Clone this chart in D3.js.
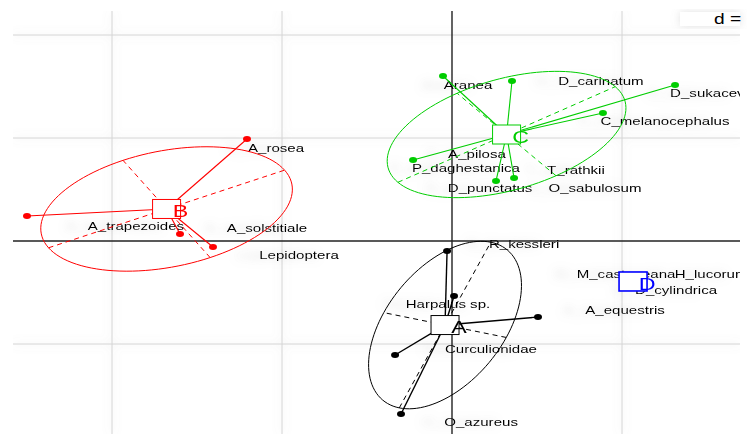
<!DOCTYPE html>
<html>
<head>
<meta charset="utf-8">
<script src="https://cdn.jsdelivr.net/npm/d3@7"></script>
<style>
  body { margin: 0; background: #fff; }
  svg { display: block; }
  text { font-family: "Liberation Sans", Arial, sans-serif; }
</style>
</head>
<body>
<div id="chart"></div>
<script>
// classes and their colours
const groups = ["A", "B", "C", "D"];
const groupColors = ["#000000", "#ff0000", "#00cd00", "#0000ff"];

// class centres, in grid units
const centerX = [-0.041, -1.679, 0.321, 1.065];
const centerY = [-0.816, 0.311, 1.034, -0.393];

// ellipses: semi-axes and angle of the major axis (degrees)
const ellA = [0.848, 0.79, 0.79, 0];
const ellB = [0.38, 0.537, 0.495, 0];
const ellAngle = [71.5, 28.5, 36, 0];

// points of each class
const pointGroup = ["A", "A", "A", "A", "A",
  "B", "B", "B", "B",
  "C", "C", "C", "C", "C", "C", "C",
  "D"];
const pointX = [-0.029, 0.012, 0.506, -0.335, -0.300,
  -1.206, -2.500, -1.600, -1.406,
  -0.053, 0.353, 0.888, 1.312, -0.229, 0.259, 0.365,
  1.065];
const pointY = [-0.097, -0.534, -0.738, -1.107, -1.680,
  0.990, 0.243, 0.068, -0.058,
  1.602, 1.553, 1.243, 1.515, 0.786, 0.583, 0.612,
  -0.393];

// species labels
const speciesNames = ["A_rosea", "A_trapezoides", "A_solstitiale", "Lepidoptera",
  "Aranea", "D_carinatum", "D_sukacevi", "C_melanocephalus", "A_pilosa",
  "P_daghestanica", "T_rathkii", "D_punctatus", "O_sabulosum", "R_kessleri",
  "M_castaneana", "H_lucorum", "D_cylindrica", "A_equestris", "Harpalus sp.",
  "Curculionidae", "O_azureus"];
const speciesX = [-1.035, -1.859, -1.088, -0.900,
  0.094, 0.876, 1.512, 1.253, 0.147,
  0.082, 0.729, 0.224, 0.841, 0.424,
  1.024, 1.524, 1.318, 1.018, -0.024,
  0.229, 0.171];
const speciesY = [0.903, 0.146, 0.126, -0.136,
  1.515, 1.553, 1.437, 1.165, 0.845,
  0.709, 0.689, 0.515, 0.515, -0.029,
  -0.320, -0.320, -0.476, -0.670, -0.612,
  -1.049, -1.757];

// grid
const gridX = [-2, -1, 0, 1];
const gridY = [-1, 0, 1, 2];
const gridStep = 1;

const width = 747;
const height = 434;

const x = d3.scaleLinear().domain([-452 / 170, 295 / 170]).range([0, width]);
const y = d3.scaleLinear().domain([241 / 103, -193 / 103]).range([0, height]);

const plotLeft = 13, plotRight = 740, plotTop = 11, plotBottom = height;
const stretch = 1.37;

const svg = d3.select("#chart")
  .append("svg")
  .attr("width", width)
  .attr("height", height);

const defs = svg.append("defs");

defs.append("clipPath")
  .attr("id", "plot-clip")
  .append("rect")
  .attr("x", plotLeft)
  .attr("y", plotTop)
  .attr("width", plotRight - plotLeft)
  .attr("height", plotBottom - plotTop);

const glow = defs.append("filter")
  .attr("id", "glow")
  .attr("x", "-20%").attr("y", "-20%")
  .attr("width", "140%").attr("height", "140%");
glow.append("feDropShadow")
  .attr("dx", 0).attr("dy", 0)
  .attr("stdDeviation", 4)
  .attr("flood-color", "#888")
  .attr("flood-opacity", 0.25);

const smear = defs.append("filter")
  .attr("id", "smear")
  .attr("x", "-50%").attr("y", "-100%")
  .attr("width", "200%").attr("height", "300%");
smear.append("feDropShadow")
  .attr("dx", -22).attr("dy", 0)
  .attr("stdDeviation", 5)
  .attr("flood-color", "#999")
  .attr("flood-opacity", 0.35);

const plot = svg.append("g").attr("clip-path", "url(#plot-clip)");

// grid lines
const grid = plot.append("g").attr("filter", "url(#glow)");

grid.selectAll(".grid-x")
  .data(gridX.filter(d => d !== 0))
  .enter().append("line")
  .attr("x1", d => x(d)).attr("x2", d => x(d))
  .attr("y1", plotTop).attr("y2", plotBottom)
  .attr("stroke", "#d4d4d4")
  .attr("stroke-width", 1);

grid.selectAll(".grid-y")
  .data(gridY.filter(d => d !== 0))
  .enter().append("line")
  .attr("x1", plotLeft).attr("x2", plotRight)
  .attr("y1", d => y(d)).attr("y2", d => y(d))
  .attr("stroke", "#d4d4d4")
  .attr("stroke-width", 1);

// origin axes
plot.append("line")
  .attr("x1", x(0)).attr("x2", x(0))
  .attr("y1", plotTop).attr("y2", plotBottom)
  .attr("stroke", "#222")
  .attr("stroke-width", 1.4);

plot.append("line")
  .attr("x1", plotLeft).attr("x2", plotRight)
  .attr("y1", y(0)).attr("y2", y(0))
  .attr("stroke", "#222")
  .attr("stroke-width", 1.4);

// species labels
const labels = speciesNames.map((name, i) => ({ name: name, x: speciesX[i], y: speciesY[i] }));

plot.append("g")
  .attr("filter", "url(#smear)")
  .selectAll("text")
  .data(labels)
  .enter().append("text")
  .attr("transform", d => "translate(" + x(d.x) + "," + y(d.y) + ") scale(" + stretch + ",1)")
  .attr("text-anchor", "middle")
  .attr("dy", "0.35em")
  .attr("font-size", 11)
  .attr("fill", "#000")
  .text(d => d.name);

// classes: ellipses, axes, stars, points, boxes
const classes = groups.map((g, i) => ({
  name: g,
  color: groupColors[i],
  cx: centerX[i],
  cy: centerY[i],
  a: ellA[i],
  b: ellB[i],
  angle: ellAngle[i] * Math.PI / 180
}));

const points = pointGroup.map((g, i) => ({
  group: g,
  x: pointX[i],
  y: pointY[i],
  cls: classes[groups.indexOf(g)]
}));

const ellipseLine = d3.line()
  .x(d => x(d[0]))
  .y(d => y(d[1]))
  .curve(d3.curveLinearClosed);

function ellipsePoints(c) {
  const u = [Math.cos(c.angle), Math.sin(c.angle)];
  const v = [-Math.sin(c.angle), Math.cos(c.angle)];
  return d3.range(0, 360, 3).map(t => {
    const r = t * Math.PI / 180;
    return [c.cx + c.a * Math.cos(r) * u[0] + c.b * Math.sin(r) * v[0],
            c.cy + c.a * Math.cos(r) * u[1] + c.b * Math.sin(r) * v[1]];
  });
}

const withEllipse = classes.filter(c => c.a > 0);

plot.selectAll(".ellipse")
  .data(withEllipse)
  .enter().append("path")
  .attr("class", "ellipse")
  .attr("d", c => ellipseLine(ellipsePoints(c)))
  .attr("fill", "none")
  .attr("stroke", c => c.color)
  .attr("stroke-width", 1);

// dashed ellipse axes
const axesData = [];
withEllipse.forEach(c => {
  const u = [Math.cos(c.angle), Math.sin(c.angle)];
  const v = [-Math.sin(c.angle), Math.cos(c.angle)];
  axesData.push({ c: c, x1: c.cx - c.a * u[0], y1: c.cy - c.a * u[1], x2: c.cx + c.a * u[0], y2: c.cy + c.a * u[1] });
  axesData.push({ c: c, x1: c.cx - c.b * v[0], y1: c.cy - c.b * v[1], x2: c.cx + c.b * v[0], y2: c.cy + c.b * v[1] });
});

plot.selectAll(".ell-axis")
  .data(axesData)
  .enter().append("line")
  .attr("class", "ell-axis")
  .attr("x1", d => x(d.x1)).attr("y1", d => y(d.y1))
  .attr("x2", d => x(d.x2)).attr("y2", d => y(d.y2))
  .attr("stroke", d => d.c.color)
  .attr("stroke-width", 1)
  .attr("stroke-dasharray", "5,4");

// stars
plot.selectAll(".star")
  .data(points)
  .enter().append("line")
  .attr("class", "star")
  .attr("x1", d => x(d.cls.cx)).attr("y1", d => y(d.cls.cy))
  .attr("x2", d => x(d.x)).attr("y2", d => y(d.y))
  .attr("stroke", d => d.cls.color)
  .attr("stroke-width", d => d.group === "A" ? 1.4 : 1.1);

plot.selectAll(".pt")
  .data(points)
  .enter().append("ellipse")
  .attr("class", "pt")
  .attr("cx", d => x(d.x))
  .attr("cy", d => y(d.y))
  .attr("rx", 4)
  .attr("ry", 3)
  .attr("fill", d => d.cls.color);

// class boxes and letters
const boxes = plot.selectAll(".box")
  .data(classes)
  .enter().append("g")
  .attr("class", "box")
  .attr("transform", c => "translate(" + x(c.cx) + "," + y(c.cy) + ")");

boxes.append("rect")
  .attr("x", -14).attr("y", -9.5)
  .attr("width", 28).attr("height", 19)
  .attr("fill", "#fff")
  .attr("stroke", c => c.color)
  .attr("stroke-width", c => c.name === "D" ? 1.6 : 1);

boxes.append("text")
  .attr("transform", "translate(14,2) scale(" + stretch + ",1)")
  .attr("text-anchor", "middle")
  .attr("dy", "0.36em")
  .attr("font-size", 17)
  .attr("fill", c => c.color)
  .text(c => c.name);

// scale box in the corner
const legend = svg.append("g");
legend.append("rect")
  .attr("x", 680).attr("y", 12)
  .attr("width", 60).attr("height", 14)
  .attr("fill", "#fff")
  .attr("filter", "url(#glow)");
legend.append("text")
  .attr("transform", "translate(714,24) scale(" + stretch + ",1)")
  .attr("font-size", 14)
  .attr("fill", "#000")
  .text("d = " + gridStep);
</script>
</body>
</html>
